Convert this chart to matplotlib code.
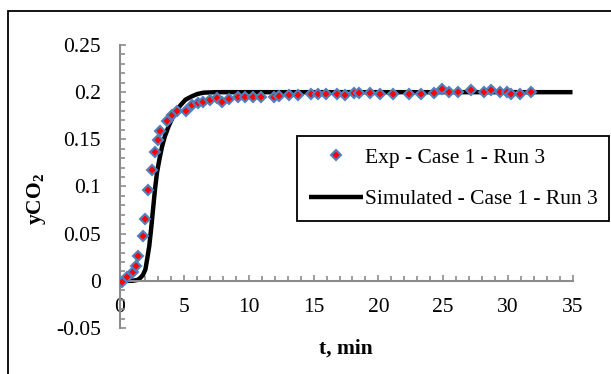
import matplotlib
matplotlib.use("Agg")
import matplotlib.pyplot as plt
from matplotlib.ticker import MultipleLocator
from matplotlib.patches import Rectangle

# Experimental data (t in min, yCO2)
exp_t = [0.22, 0.6, 1.07, 1.28, 1.46, 1.85, 1.95, 2.24, 2.49, 2.74, 2.96, 3.14, 3.7, 4.07,
         4.43, 5.1, 5.6, 6.03, 6.45, 7.02, 7.53, 7.92, 8.49, 9.16, 9.7, 10.35, 10.94,
         11.92, 12.36, 13.06, 13.76, 14.79, 15.33, 15.98, 16.78, 17.43, 18.08, 18.54,
         19.34, 20.14, 21.1, 22.39, 23.3, 24.28, 24.92, 25.49, 26.14, 27.12, 28.16,
         28.72, 29.4, 29.97, 30.27, 30.95, 31.77]
exp_y = [-0.001, 0.004, 0.0097, 0.016, 0.026, 0.0475, 0.066, 0.096, 0.117, 0.137, 0.149,
         0.159, 0.169, 0.176, 0.18, 0.18, 0.186, 0.188, 0.19, 0.192, 0.1935, 0.19, 0.193,
         0.195, 0.195, 0.195, 0.195, 0.1946, 0.196, 0.197, 0.197, 0.198, 0.198, 0.198,
         0.198, 0.197, 0.1995, 0.199, 0.199, 0.198, 0.198, 0.198, 0.198, 0.199, 0.203,
         0.2, 0.2005, 0.202, 0.1999, 0.202, 0.1999, 0.2005, 0.198, 0.198, 0.1999]

# Simulated curve
sim_t = [0, 1.0, 1.4, 1.6, 1.8, 2.0, 2.15, 2.3, 2.45, 2.6, 2.75, 2.9, 3.1, 3.3, 3.5,
         3.8, 4.1, 4.4, 4.7, 5.1, 5.5, 6.0, 6.5, 7.5, 35]
sim_y = [0, 0, 0.001, 0.003, 0.006, 0.012, 0.024, 0.037, 0.056, 0.077, 0.098, 0.115,
         0.13, 0.143, 0.153, 0.164, 0.173, 0.18, 0.186, 0.192, 0.195, 0.198, 0.1995,
         0.2, 0.2]

exp_label = "Exp - Case 1 - Run 3"
sim_label = "Simulated - Case 1 - Run 3"
x_ticks = [0, 5, 10, 15, 20, 25, 30, 35]
y_ticks = [-0.05, 0, 0.05, 0.1, 0.15, 0.2, 0.25]
y_ticklabels = ["-0.05", "0", "0.05", "0.1", "0.15", "0.2", "0.25"]

plt.rcParams['font.family'] = ['Liberation Serif', 'DejaVu Serif']
plt.rcParams['mathtext.fontset'] = 'custom'
plt.rcParams['mathtext.rm'] = 'Liberation Serif'
plt.rcParams['mathtext.bf'] = 'Liberation Serif:bold'

W, H = 611, 374
fig = plt.figure(figsize=(W / 100, H / 100), dpi=100)

# outer chart border (cropped on right/bottom)
fig.patches.append(Rectangle((8 / W, -0.01), 1.02, 1 - 11 / H + 0.01,
                             transform=fig.transFigure, fill=False,
                             edgecolor='black', linewidth=1.3))

ax = fig.add_axes([119.5 / W, 1 - 328 / H, (572.5 - 119.5) / W, (328 - 45) / H])
ax.set_xlim(0, 35)
ax.set_ylim(-0.05, 0.25)
ax.patch.set_alpha(0)

for s in ['top', 'right']:
    ax.spines[s].set_visible(False)
axis_gray = '#8c8c8c'
ax.spines['left'].set_position(('data', 0))
ax.spines['bottom'].set_position(('data', 0))
ax.spines['left'].set_color(axis_gray)
ax.spines['bottom'].set_color(axis_gray)
ax.spines['left'].set_linewidth(1.5)
ax.spines['bottom'].set_linewidth(1.5)

ax.set_xticks(x_ticks)
ax.set_xticklabels([str(v) for v in x_ticks])
ax.set_yticks(y_ticks)
ax.set_yticklabels(y_ticklabels)
ax.xaxis.set_minor_locator(MultipleLocator(1))
ax.yaxis.set_minor_locator(MultipleLocator(0.01))
ax.tick_params(which='both', direction='in', color=axis_gray, width=1.2)
ax.tick_params(which='major', length=4.5)
ax.tick_params(which='minor', length=3.5)
ax.tick_params(axis='x', which='major', labelsize=15.5, pad=12)
ax.tick_params(axis='y', which='major', labelsize=15.5, pad=13.5)

ax.plot(sim_t, sim_y, color='black', linewidth=3.2, label=sim_label, zorder=2,
        solid_capstyle='butt')
ax.plot(exp_t, exp_y, linestyle='none', marker='D', markersize=5,
        markerfacecolor='red', markeredgecolor='#4f81bd', markeredgewidth=1.5,
        label=exp_label, zorder=3)

handles, labels = ax.get_legend_handles_labels()
leg = fig.legend(handles[::-1], labels[::-1], loc='center',
                 bbox_to_anchor=(297 / W, 1 - 220 / H, (609 - 297) / W, (220 - 137) / H),
                 mode='expand', fontsize=15.5, frameon=True, fancybox=False,
                 framealpha=1, edgecolor='black', handlelength=2.5, handletextpad=0.1,
                 labelspacing=1.0, borderpad=0.55, borderaxespad=0)
leg.get_frame().set_linewidth(1.3)

fig.text(37 / W, 1 - 199 / H, r"yCO$_\mathbf{2}$", rotation=90, ha='center', va='center',
         fontsize=15.5, fontweight='bold')
fig.text(346 / W, 1 - 349 / H, "t, min", ha='center', va='center',
         fontsize=15.5, fontweight='bold')

fig.savefig("out.png", dpi=100)
